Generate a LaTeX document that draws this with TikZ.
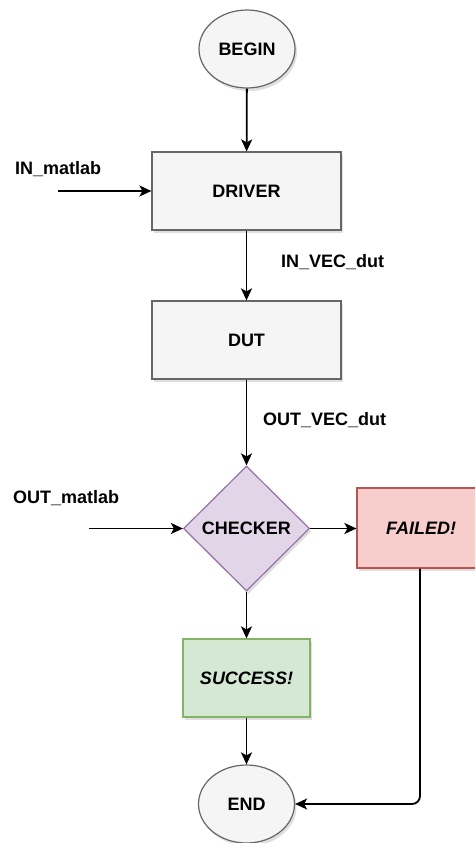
\documentclass[tikz,border=0pt]{standalone}
\usepackage{fontspec}
\setmainfont{Liberation Sans}
\usetikzlibrary{shapes.geometric,arrows.meta,shadows}
\definecolor{gfill}{HTML}{F5F5F5}
\definecolor{gline}{HTML}{666666}
\definecolor{pfill}{HTML}{E1D5E7}
\definecolor{pline}{HTML}{9673A6}
\definecolor{rfill}{HTML}{F8CECC}
\definecolor{rline}{HTML}{B85450}
\definecolor{sfill}{HTML}{D5E8D4}
\definecolor{sline}{HTML}{82B366}
\tikzset{
  base/.style={font=\fontsize{18}{20}\selectfont\bfseries, line width=1.2pt, inner sep=0pt,
    drop shadow={shadow xshift=2pt, shadow yshift=-3pt, opacity=0.25, fill=gray}},
  term/.style={base, ellipse, draw=gline, fill=gfill, minimum width=96pt, minimum height=78pt},
  proc/.style={base, rectangle, draw=gline, fill=gfill, minimum width=189pt, minimum height=78pt},
  dec/.style={base, diamond, draw=pline, fill=pfill, minimum width=126pt, minimum height=125pt, aspect=1},
  fail/.style={base, rectangle, draw=rline, fill=rfill, minimum width=134pt, minimum height=80pt, font=\fontsize{18}{20}\selectfont\bfseries\itshape},
  succ/.style={base, rectangle, draw=sline, fill=sfill, minimum width=127pt, minimum height=78pt, font=\fontsize{18}{20}\selectfont\bfseries\itshape},
  lbl/.style={font=\fontsize{18}{20}\selectfont\bfseries, inner sep=0pt},
  conn/.style={line width=1.8pt, -{Stealth[length=12pt,width=11pt,inset=3pt]}}
}
\begin{document}
\begin{tikzpicture}[x=1pt,y=-1pt]
\useasboundingbox (0,0) rectangle (475,843);
\clip (0,0) rectangle (475,843);
\node[term] (begin) at (247,49) {BEGIN};
\node[proc] (driver) at (246.5,191) {DRIVER};
\node[proc] (dut) at (246.5,340) {DUT};
\node[dec] (checker) at (246.5,528.5) {CHECKER};
\node[fail] (failed) at (424,528) {};
\node[font=\fontsize{18}{20}\selectfont\bfseries\itshape] (failtxt) at (421,528) {FAILED!};
\node[succ] (success) at (246.5,678) {SUCCESS!};
\node[term] (end) at (246.5,804) {END};

\node[lbl, anchor=west] (inm) at (15,169) {IN\_matlab};
\node[lbl, anchor=west] (outm) at (13,498) {OUT\_matlab};
\node[lbl, anchor=west] (invec) at (281,262) {IN\_VEC\_dut};
\node[lbl, anchor=west] (outvec) at (263,420) {OUT\_VEC\_dut};

\coordinate (inA) at (58,191);
\coordinate (outA) at (89,528.5);

\draw[conn] (begin) -- (driver);
\draw[conn] (inA) -- (driver);
\draw[conn] (driver) -- (dut);
\draw[conn] (dut) -- (checker);
\draw[conn] (outA) -- (checker);
\draw[conn] (checker) -- (failed.west |- checker);
\draw[conn] (checker) -- (success);
\draw[conn] (success) -- (end);
\draw[conn, rounded corners=8pt] (failed.south -| 420,0) |- (end.east);
\end{tikzpicture}
\end{document}
